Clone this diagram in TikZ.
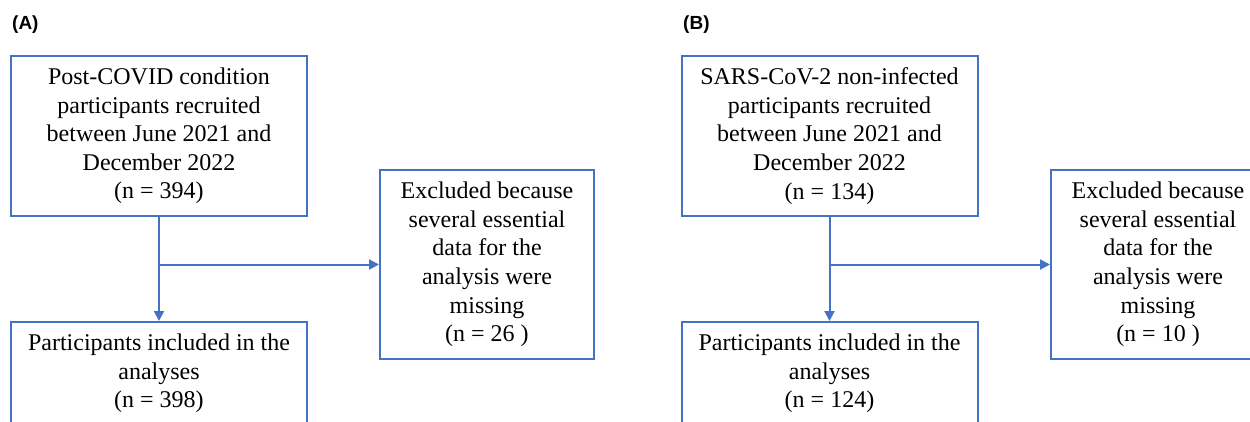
\documentclass[tikz,border=0pt]{standalone}
\usepackage{fontspec}
\setmainfont{Liberation Serif}
\newfontfamily\labelfont{Liberation Sans}
\usetikzlibrary{arrows.meta}
\definecolor{boxblue}{HTML}{4472C4}
\tikzset{
  flowbox/.style={draw=boxblue, line width=2pt, rectangle, align=center, inner sep=0pt,
    font=\fontsize{24}{28.6}\selectfont, text=black},
  flowarrow/.style={draw=boxblue, line width=2pt, -{Triangle[length=10pt,width=10pt]}},
  flowline/.style={draw=boxblue, line width=2pt},
  panellabel/.style={anchor=west, inner sep=0pt, font=\labelfont\bfseries\fontsize{19}{22}\selectfont}
}
\begin{document}
\begin{tikzpicture}[x=1pt,y=-1pt]
\useasboundingbox (0,0) rectangle (1250,421);
\clip (0,0) rectangle (1250,421);
% Panel A
\node[panellabel] (la) at (12,25) {(A)};
\node[flowbox, minimum width=296pt, minimum height=160pt] (a1) at (159,136)
  {Post-COVID condition\\participants recruited\\between June 2021 and\\December 2022\\(n = 394)};
\node[flowbox, minimum width=214pt, minimum height=189pt] (a2) at (487,264.5)
  {Excluded because\\several essential\\data for the\\analysis were\\missing\\(n = 26 )};
\node[flowbox, minimum width=296pt, minimum height=103pt] (a3) at (159,373.5)
  {Participants included in the\\analyses\\(n = 398)};
\coordinate (aj) at (a1.south |- a2.west);
\draw[flowarrow] (a1.south) -- (a3.north);
\draw[flowarrow] (aj) -- (a2.west);
% Panel B
\node[panellabel] (lb) at (683,25) {(B)};
\node[flowbox, minimum width=296pt, minimum height=160pt] (b1) at (829.5,136)
  {SARS-CoV-2 non-infected\\participants recruited\\between June 2021 and\\December 2022\\(n = 134)};
\node[flowbox, minimum width=214pt, minimum height=189pt] (b2) at (1158,264.5)
  {Excluded because\\several essential\\data for the\\analysis were\\missing\\(n = 10 )};
\node[flowbox, minimum width=296pt, minimum height=103pt] (b3) at (829.5,373.5)
  {Participants included in the\\analyses\\(n = 124)};
\coordinate (bj) at (b1.south |- b2.west);
\draw[flowarrow] (b1.south) -- (b3.north);
\draw[flowarrow] (bj) -- (b2.west);
\end{tikzpicture}
\end{document}
